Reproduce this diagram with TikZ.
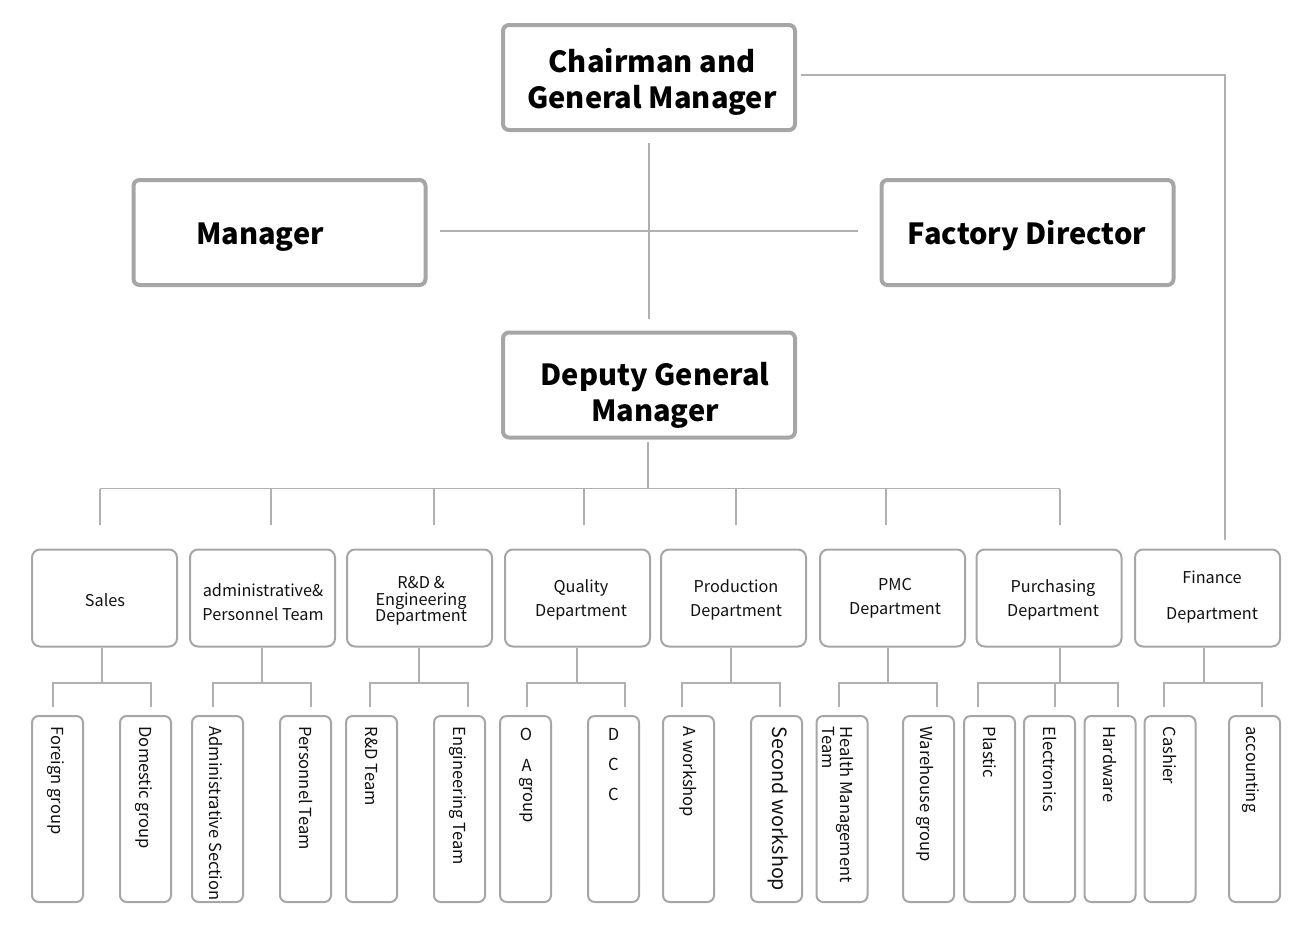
\documentclass[tikz,border=0pt]{standalone}
\usepackage{fontspec}
\setmainfont{Noto Sans CJK SC}
\definecolor{boxgray}{HTML}{A6A6A6}
\definecolor{linegray}{HTML}{B0B0B0}
\definecolor{textgray}{HTML}{111111}
\begin{document}
\begin{tikzpicture}[x=0.75pt,y=-0.75pt,
  big/.style={draw=boxgray, line width=3pt, rounded corners=4.5pt, minimum width=219pt, minimum height=78.75pt, inner sep=0, fill=white},
  bigtext/.style={font=\bfseries\fontsize{21.8}{27}\selectfont, align=center, text=black, inner sep=0},
  dept/.style={draw=boxgray, line width=1.5pt, rounded corners=6pt, minimum width=108.75pt, minimum height=72.75pt, inner sep=0},
  depttext/.style={font=\fontsize{12.2}{18}\selectfont, align=center, text=textgray, inner sep=0},
  kid/.style={draw=boxgray, line width=1.5pt, rounded corners=5pt, minimum width=38.25pt, minimum height=139.5pt, inner sep=0},
  kidtext/.style={font=\fontsize{12.4}{15}\selectfont, rotate=-90, anchor=west, inner sep=0, text=textgray, align=left},
  uptext/.style={font=\fontsize{12.4}{15}\selectfont, inner sep=0, text=textgray},
  conn/.style={draw=linegray, line width=1.2pt}]

\useasboundingbox (0,0) rectangle (1299,928);

% top level
\node[big] (chair) at (649,77.5) {};
\node[bigtext] (chairT) at (652,82) {Chairman and\\General Manager};
\node[big] (mgr) at (279.5,232.5) {};
\node[bigtext] (mgrT) at (260,237) {Manager};
\node[big] (fac) at (1027.5,232.5) {};
\node[bigtext] (facT) at (1027,236) {Factory Director};
\node[big] (dgm) at (649,385) {};
\node[bigtext] (dgmT) at (655,395) {Deputy General\\Manager};

% departments
\node[dept] (sales) at (104.5,598) {};
\node[dept] (adm) at (262.5,598) {};
\node[dept] (rd) at (419.5,598) {};
\node[dept] (qa) at (577.5,598) {};
\node[dept] (prod) at (733.5,598) {};
\node[dept] (pmc) at (892.5,598) {};
\node[dept] (pur) at (1049,598) {};
\node[dept] (fin) at (1207.5,598) {};

\node[depttext] (salesT) at (105,600) {Sales};
\node[depttext] (admT) at (263,602) {administrative\&\\Personnel Team};
\node[depttext, font=\fontsize{12.2}{12.2}\selectfont] (rdT) at (421,601) {R\&D \&\\Engineering\\Department};
\node[depttext] (qaT) at (581,599.5) {Quality\\Department};
\node[depttext] (prodT) at (736,599.5) {Production\\Department};
\node[depttext] (pmcT) at (895,598.5) {PMC\\Department};
\node[depttext] (purT) at (1053,599.5) {Purchasing\\Department};
\node[depttext, font=\fontsize{12.2}{27}\selectfont] (finT) at (1212,597.5) {Finance\\Department};

% children
\foreach \n/\x in {k11/57.5,k12/145.5,k21/217.5,k22/305.5,k31/371.5,k32/459.5,k41/525.5,k42/613.5,k51/688.5,k52/776.5,k61/842,k62/928.5,k71/989.5,k72/1049.5,k73/1110,k81/1170,k82/1254.5}
  \node[kid] (\n) at (\x,809) {};

\node[kidtext] (t11) at ([xshift=-1.5pt,yshift=-8.5pt]k11.north) {Foreign group};
\node[kidtext] (t12) at ([xshift=-1pt,yshift=-8.5pt]k12.north) {Domestic group};
\node[kidtext] (t21) at ([xshift=-1pt,yshift=-8.5pt]k21.north) {Administrative Section};
\node[kidtext] (t22) at ([yshift=-8.5pt]k22.north) {Personnel Team};
\node[kidtext] (t31) at ([yshift=-8.5pt]k31.north) {R\&D Team};
\node[kidtext] (t32) at ([xshift=-1pt,yshift=-8.5pt]k32.north) {Engineering Team};
\node[uptext] (t41a) at ([xshift=0.4pt,yshift=-14.25pt]k41.north) {O};
\node[uptext] (t41b) at ([xshift=0.8pt,yshift=-37.5pt]k41.north) {A};
\node[kidtext] (t41c) at ([xshift=0.4pt,yshift=-46.5pt]k41.north) {group};
\node[uptext] (t42a) at ([yshift=-14.25pt]k42.north) {D};
\node[uptext] (t42b) at ([yshift=-36.75pt]k42.north) {C};
\node[uptext] (t42c) at ([yshift=-59.25pt]k42.north) {C};
\node[kidtext] (t51) at ([yshift=-8.5pt]k51.north) {A workshop};
\node[kidtext, font=\fontsize{14.8}{17}\selectfont] (t52) at ([xshift=1pt,yshift=-8.5pt]k52.north) {Second workshop};
\node[kidtext, font=\fontsize{12.4}{11.5}\selectfont] (t61) at ([xshift=-3pt,yshift=-8.5pt]k61.north) {Health Management\\Team};
\node[kidtext] (t62) at ([xshift=-2.5pt,yshift=-8.5pt]k62.north) {Warehouse group};
\node[kidtext] (t71) at ([yshift=-8.5pt]k71.north) {Plastic};
\node[kidtext] (t72) at ([yshift=-8.5pt]k72.north) {Electronics};
\node[kidtext] (t73) at ([yshift=-8.5pt]k73.north) {Hardware};
\node[kidtext] (t81) at ([yshift=-8.5pt]k81.north) {Cashier};
\node[kidtext] (t82) at ([xshift=-3pt,yshift=-8.5pt]k82.north) {accounting};

% top connectors
\draw[conn] ([yshift=-8.25pt]chair.south) -- ([yshift=9pt]dgm.north);
\draw[conn] ([xshift=9pt,yshift=1pt]mgr.east) -- ([xshift=-16.5pt,yshift=1pt]fac.west);
\draw[conn] ([xshift=3pt,yshift=2pt]chair.east) -| ([xshift=13.1pt,yshift=6.75pt]fin.north);

% bus from deputy GM
\draw[conn] ([xshift=-0.75pt,yshift=-1.5pt]dgm.south) -- ++(0,47);
\draw[conn] ([xshift=-3.4pt,yshift=18pt]sales.north) -- ++(0,-36) coordinate (b1);
\draw[conn] ([xshift=6.4pt,yshift=18pt]adm.north) -- ++(0,-36);
\draw[conn] ([xshift=10.9pt,yshift=18pt]rd.north) -- ++(0,-36);
\draw[conn] ([xshift=4.9pt,yshift=18pt]qa.north) -- ++(0,-36);
\draw[conn] ([xshift=1.9pt,yshift=18pt]prod.north) -- ++(0,-36);
\draw[conn] ([xshift=-4.9pt,yshift=18pt]pmc.north) -- ++(0,-36);
\draw[conn] ([xshift=8.25pt,yshift=18pt]pur.north) -- ++(0,-36) coordinate (b7);
\draw[conn] (b1) -- (b7);

% department to children
\newcommand\kidbar[6]{%
  \draw[conn] ([xshift=#2]#1.south) -- ++(0,36);
  \draw[conn] ([xshift=#4,yshift=6pt]#3.north) -- ++(0,-24) -| ([xshift=#6,yshift=6pt]#5.north);
}
\kidbar{sales}{-1.9pt}{k11}{-3.4pt}{k12}{4.1pt}
\kidbar{adm}{-0.4pt}{k21}{-3.4pt}{k22}{4.1pt}
\kidbar{rd}{-0.4pt}{k31}{-1.1pt}{k32}{6.4pt}
\kidbar{qa}{-0.4pt}{k41}{1.1pt}{k42}{8.6pt}
\kidbar{prod}{-1.9pt}{k51}{-4.9pt}{k52}{2.6pt}
\kidbar{pmc}{-3.4pt}{k61}{-2.25pt}{k62}{6.4pt}
\kidbar{pur}{8.25pt}{k71}{-8.6pt}{k73}{6pt}
\draw[conn] ([xshift=4.1pt,yshift=6pt]k72.north) -- ++(0,-24);
\kidbar{fin}{-2.6pt}{k81}{-4.5pt}{k82}{5.6pt}

\end{tikzpicture}
\end{document}
